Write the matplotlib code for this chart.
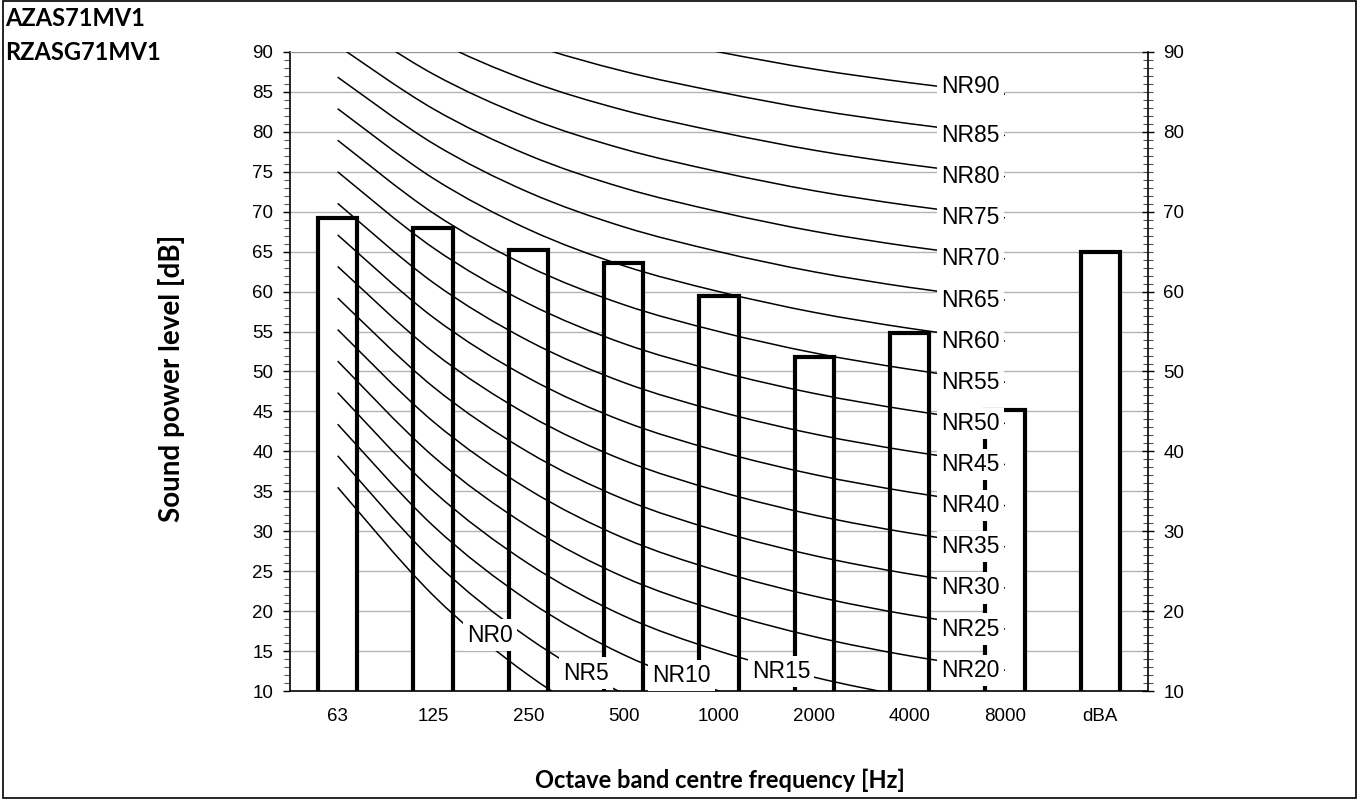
import matplotlib
matplotlib.use('Agg')
import matplotlib.pyplot as plt
import numpy as np
from matplotlib.path import Path
from matplotlib.patches import PathPatch, Rectangle
from matplotlib.ticker import MultipleLocator

# octave bands + overall level
categories = ['63', '125', '250', '500', '1000', '2000', '4000', '8000', 'dBA']
sound_power = [69.2, 68.0, 65.2, 63.6, 59.4, 51.8, 54.8, 45.2, 65.0]

# NR curves: L = a + b * NR for each octave band 63..8000 Hz
nr_levels = [0, 5, 10, 15, 20, 25, 30, 35, 40, 45, 50, 55, 60, 65, 70, 75, 80, 85, 90]
nr_a = [35.5, 22.0, 12.0, 4.8, 0.0, -3.5, -6.1, -8.0]
nr_b = [0.790, 0.870, 0.930, 0.974, 1.000, 1.015, 1.025, 1.030]

title_lines = ['AZAS71MV1', 'RZASG71MV1']

# labels that were moved by hand in the original sheet
label_moved = {0: (1.6, 17.0), 5: (2.61, 12.25), 10: (3.61, 11.9), 15: (4.65, 12.45)}


def smooth_path(xs, ys):
    # Excel style smoothed line: cubic bezier through every point
    pts = np.column_stack([xs, ys])
    ext = np.vstack([pts[0], pts, pts[-1]])
    verts, codes = [pts[0]], [Path.MOVETO]
    for i in range(len(pts) - 1):
        p0, p1, p2, p3 = ext[i], ext[i + 1], ext[i + 2], ext[i + 3]
        verts += [p1 + (p2 - p0) / 6.0, p2 - (p3 - p1) / 6.0, p2]
        codes += [Path.CURVE4] * 3
    return Path(verts, codes)


fig = plt.figure(figsize=(13.6, 8.01), dpi=100)
ax = fig.add_axes([290 / 1360, 110 / 801, 858 / 1360, 639 / 801])

x = np.arange(len(categories))
ax.bar(x, sound_power, width=0.41, bottom=0, color='white', edgecolor='black',
       linewidth=3.0, zorder=2)

band_x = x[:len(nr_a)]
for n in nr_levels:
    levels = [a + b * n for a, b in zip(nr_a, nr_b)]
    patch = PathPatch(smooth_path(band_x, levels), fill=False, edgecolor='black',
                      linewidth=1.1, zorder=3)
    ax.add_patch(patch)
    box = dict(boxstyle='square,pad=0.18', fc='white', ec='none')
    if n in label_moved:
        ax.text(label_moved[n][0], label_moved[n][1], 'NR%d' % n, ha='center', va='center',
                fontsize=16.5, family='Liberation Sans', bbox=box, zorder=5)
    else:
        yl = levels[-1] if n != 90 else 85.7
        ax.annotate('NR%d' % n, xy=(band_x[-1], yl), xytext=(-4, 0),
                    textcoords='offset points', ha='right', va='center',
                    fontsize=16.5, family='Liberation Sans', bbox=box, zorder=5)

ax.set_xlim(-0.5, len(categories) - 0.5)
ax.set_ylim(10, 90)
ax.set_xticks(x)
ax.set_xticklabels(categories, family='Liberation Sans', fontsize=13.5)
ax.tick_params(axis='x', length=0, pad=12)

ax.yaxis.set_major_locator(MultipleLocator(5))
ax.yaxis.set_minor_locator(MultipleLocator(1))
ax.tick_params(axis='y', which='major', direction='out', length=5, width=1, pad=7, labelsize=13.5)
ax.tick_params(axis='y', which='minor', direction='out', length=4, width=0.8, color='#555555')
for lab in ax.get_yticklabels():
    lab.set_family('Liberation Sans')
ax.grid(axis='y', color='#b4b4b4', linewidth=1.0, zorder=0)
ax.set_axisbelow(True)

ax.spines['top'].set_color('#9a9a9a')
ax.spines['right'].set_visible(False)
for side in ['left', 'bottom']:
    ax.spines[side].set_linewidth(1.2)

ax2 = ax.twinx()
ax2.set_ylim(10, 90)
ax2.yaxis.set_major_locator(MultipleLocator(10))
ax2.yaxis.set_minor_locator(MultipleLocator(1))
ax2.tick_params(axis='y', which='major', direction='inout', length=8, width=1, pad=7, labelsize=13.5)
ax2.tick_params(axis='y', which='minor', direction='inout', length=7, width=0.8, color='#555555')
for lab in ax2.get_yticklabels():
    lab.set_family('Liberation Sans')
for side in ['left', 'top', 'bottom']:
    ax2.spines[side].set_visible(False)
ax2.spines['right'].set_linewidth(1.2)

ax.set_ylabel('Sound power level [dB]', family='Lato', fontweight='bold', fontsize=20)
ax.yaxis.set_label_coords(-105 / 858, 0.49)
fig.text(720 / 1360, 1 - 780 / 801, 'Octave band centre frequency [Hz]', family='Lato',
         fontweight='bold', fontsize=17, ha='center', va='center')

fig.text(5 / 1360, 1 - 18 / 801, title_lines[0], family='Lato', fontweight='bold',
         fontsize=17, ha='left', va='center')
fig.text(5 / 1360, 1 - 52 / 801, title_lines[1], family='Lato', fontweight='bold',
         fontsize=17, ha='left', va='center')

fig.patches.append(Rectangle((3 / 1360, 3 / 801), 1353 / 1360, 797 / 801,
                             transform=fig.transFigure, fill=False, edgecolor='black',
                             linewidth=1.2))

fig.savefig('out.png', dpi=100)
